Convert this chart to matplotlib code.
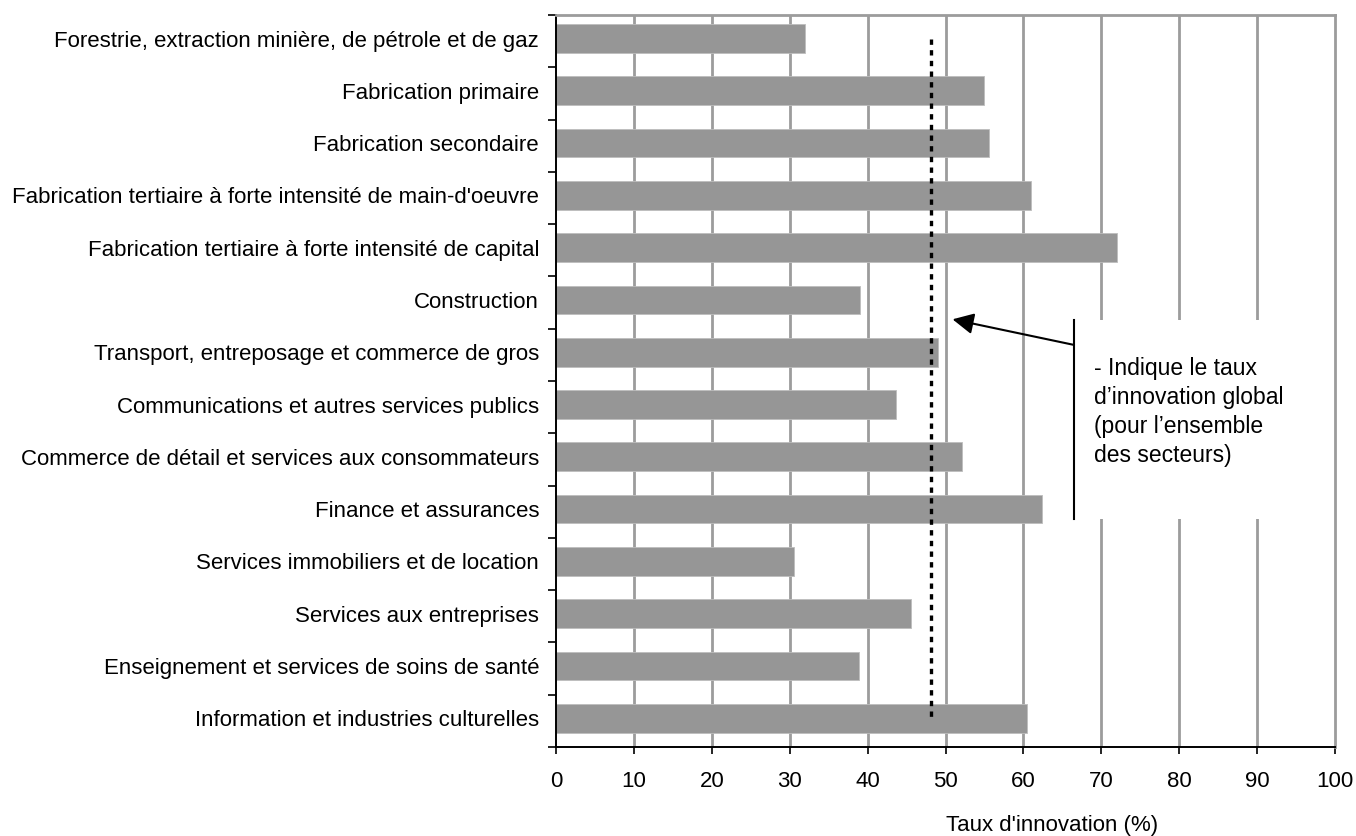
import numpy as np
import matplotlib
matplotlib.use('Agg')
import matplotlib.pyplot as plt
from matplotlib.patches import Rectangle

plt.rcParams['font.family'] = ['Liberation Sans', 'DejaVu Sans']

# sectors, top to bottom
secteurs = [
    "Forestrie, extraction minière, de pétrole et de gaz",
    "Fabrication primaire",
    "Fabrication secondaire",
    "Fabrication tertiaire à forte intensité de main-d'oeuvre",
    "Fabrication tertiaire à forte intensité de capital",
    "Construction",
    "Transport, entreposage et commerce de gros",
    "Communications et autres services publics",
    "Commerce de détail et services aux consommateurs",
    "Finance et assurances",
    "Services immobiliers et de location",
    "Services aux entreprises",
    "Enseignement et services de soins de santé",
    "Information et industries culturelles",
]
taux = [32.0, 55.0, 55.6, 61.0, 72.0, 39.0, 49.0, 43.7, 52.1, 62.4, 30.5, 45.6, 38.9, 60.5]
taux_global = 48.2
xticks = [0, 10, 20, 30, 40, 50, 60, 70, 80, 90, 100]
note = "- Indique le taux\nd’innovation global\n(pour l’ensemble\ndes secteurs)"
xlabel = "Taux d'innovation (%)"

fs = 16
grid_col = '#9c9c9c'

fig = plt.figure(figsize=(13.56, 8.36), dpi=100)
ax = fig.add_axes([556/1356, 1-747/836, (1335-556)/1356, (747-15)/836])

pos = np.arange(len(secteurs))
ax.barh(pos, taux, height=0.55, color='#969696', edgecolor='#bdbdbd', linewidth=0.6, zorder=2)

ax.set_xlim(0, 100)
ax.set_ylim(len(secteurs) - 0.45, -0.45)

# vertical gridlines
for v in xticks[1:-1]:
    ax.axvline(v, color=grid_col, lw=2.0, zorder=1)

# overall rate (dotted)
ax.plot([taux_global, taux_global], [pos[0], pos[-1]], color='black', lw=2.4,
        linestyle=(0, (1.6, 1.6)), zorder=4)

# note box
ax.add_patch(Rectangle((66.5, 5.38), 32.5, 3.81, facecolor='white', edgecolor='none', zorder=3))
ax.plot([66.5, 66.5], [5.38, 9.19], color='black', lw=1.5, zorder=5)
ax.annotate('', xy=(50.9, 5.37), xytext=(66.5, 5.86),
            arrowprops=dict(arrowstyle='-|>', color='black', lw=1.5,
                            mutation_scale=32, shrinkA=0, shrinkB=0), zorder=5)
ax.text(69.0, 6.10, note, fontsize=16.5, va='top', ha='left', linespacing=1.33, zorder=6,
        transform=ax.transData)

# spines
ax.spines['left'].set_color('black')
ax.spines['left'].set_linewidth(1.4)
ax.spines['bottom'].set_color('black')
ax.spines['bottom'].set_linewidth(1.4)
ax.spines['top'].set_color(grid_col)
ax.spines['top'].set_linewidth(2.0)
ax.spines['right'].set_color(grid_col)
ax.spines['right'].set_linewidth(2.0)
for s in ax.spines.values():
    s.set_zorder(6)

ax.set_xticks(xticks)
ax.set_xticklabels([str(t) for t in xticks], fontsize=fs)
ax.tick_params(axis='x', direction='out', length=5, width=1.2, pad=12)

ax.set_yticks(pos)
ax.set_yticklabels(secteurs, fontsize=fs)
ax.tick_params(axis='y', which='major', length=0, pad=12.2)
ax.set_yticks(np.arange(-1, len(secteurs)) + 0.55, minor=True)
ax.tick_params(axis='y', which='minor', direction='out', length=6, width=1.2)

fig.text(1052/1356, 1-825/836, xlabel, fontsize=fs, ha='center', va='center')

fig.savefig('out.png', dpi=100)
